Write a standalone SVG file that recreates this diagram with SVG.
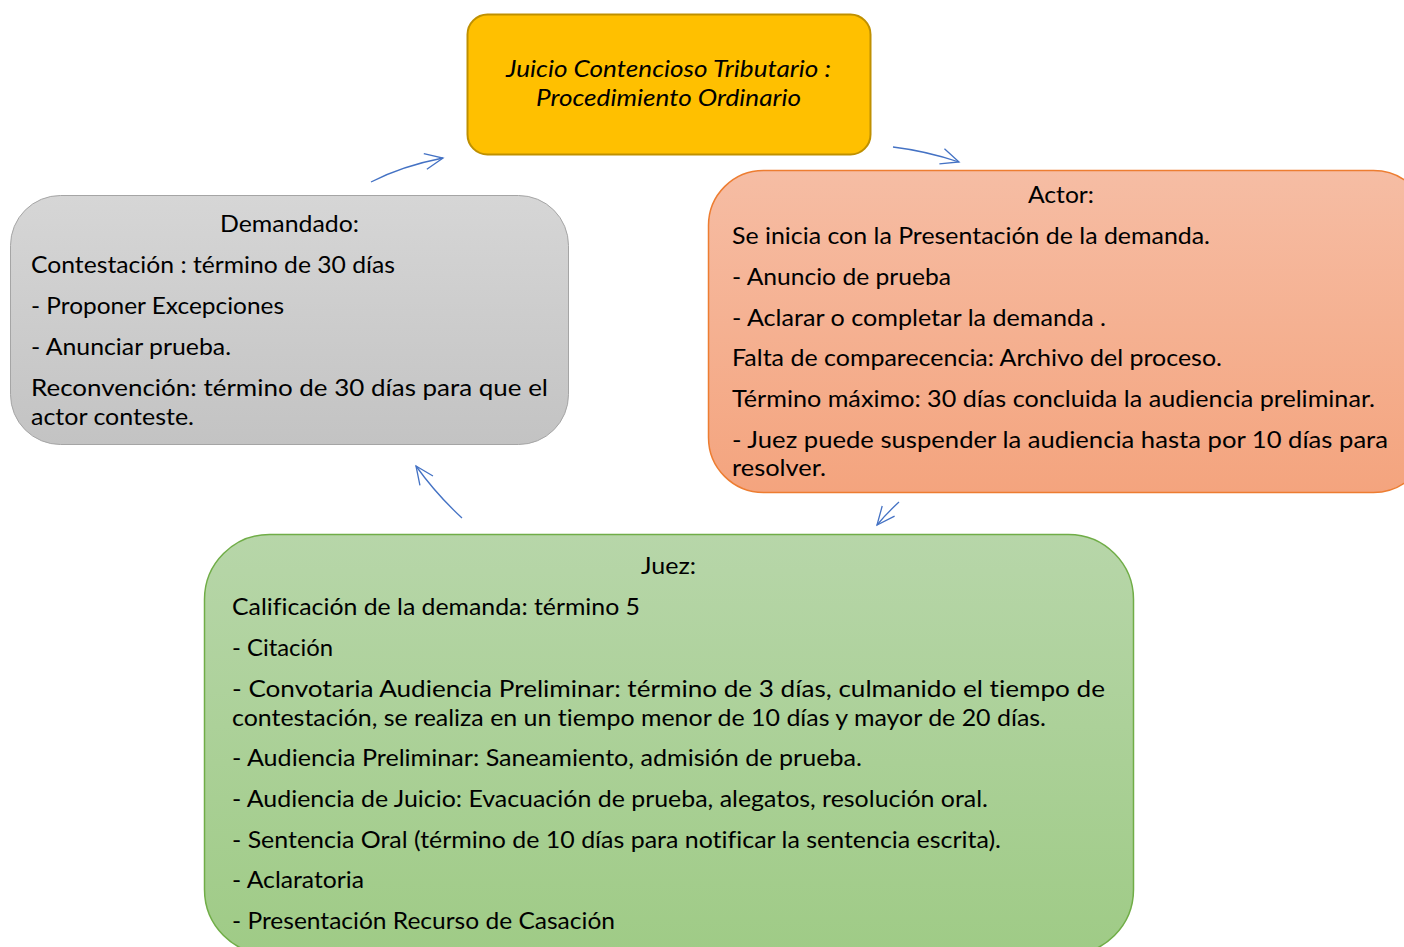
<svg xmlns="http://www.w3.org/2000/svg" width="1404" height="947" viewBox="0 0 1404 947">
<style>
.t{font-family:Lato,"Liberation Sans",sans-serif;font-size:23.5px;fill:#000;font-variant-ligatures:none}
.c{text-anchor:middle}
.i{font-style:italic}
.conn path{fill:none;stroke:#4472c4;stroke-width:1.3}
</style>
<defs>
<linearGradient id="gGray" x1="0" y1="0" x2="0" y2="1"><stop offset="0" stop-color="#d6d6d6"/><stop offset="1" stop-color="#c3c3c3"/></linearGradient>
<linearGradient id="gOr" x1="0" y1="0" x2="0" y2="1"><stop offset="0" stop-color="#f6bda4"/><stop offset="1" stop-color="#f4a47e"/></linearGradient>
<linearGradient id="gGr" x1="0" y1="0" x2="0" y2="1"><stop offset="0" stop-color="#b7d6a9"/><stop offset="1" stop-color="#9fcb86"/></linearGradient>
<marker id="ah" markerUnits="userSpaceOnUse" markerWidth="40" markerHeight="40" refX="0" refY="0" viewBox="-20 -20 40 40" orient="auto" overflow="visible">
<path d="M-18,-8 L0,0 L-18,8" fill="none" stroke="#4472c4" stroke-width="1.3"/>
</marker>
</defs>

<g id="conectores" class="conn">
<path d="M371,182 Q402,166 443,158" marker-end="url(#ah)"/>
<path d="M893,147 Q926,151 959,162" marker-end="url(#ah)"/>
<path d="M899,502 Q886,514 877,525" marker-end="url(#ah)"/>
<path d="M462,518 Q436,494 416,466" marker-end="url(#ah)"/>
</g>

<g id="titulo">
<rect x="467.5" y="14.5" width="403" height="140" rx="20" fill="#ffc000" stroke="#bf9000" stroke-width="2"/>
<text class="t c i" x="668.5" y="77" textLength="325" lengthAdjust="spacingAndGlyphs">Juicio Contencioso Tributario :</text>
<text class="t c i" x="668.5" y="106" textLength="265" lengthAdjust="spacingAndGlyphs">Procedimiento Ordinario</text>
</g>

<g id="demandado">
<rect x="10.5" y="195.5" width="558" height="249" rx="50" fill="url(#gGray)" stroke="#a5a5a5" stroke-width="1"/>
<text class="t c" x="289.5" y="232" textLength="139" lengthAdjust="spacingAndGlyphs">Demandado:</text>
<text class="t" x="31" y="273" textLength="364" lengthAdjust="spacingAndGlyphs">Contestación : término de 30 días</text>
<text class="t" x="31" y="314" textLength="253" lengthAdjust="spacingAndGlyphs">- Proponer Excepciones</text>
<text class="t" x="31" y="355" textLength="200" lengthAdjust="spacingAndGlyphs">- Anunciar prueba.</text>
<text class="t" x="31" y="396" textLength="517" lengthAdjust="spacingAndGlyphs">Reconvención: término de 30 días para que el</text>
<text class="t" x="31" y="425" textLength="163" lengthAdjust="spacingAndGlyphs">actor conteste.</text>
</g>

<g id="actor">
<rect x="708.5" y="170.5" width="720" height="322" rx="55" fill="url(#gOr)" stroke="#ed7d31" stroke-width="1.5"/>
<text class="t c" x="1061" y="203" textLength="66" lengthAdjust="spacingAndGlyphs">Actor:</text>
<text class="t" x="732" y="244" textLength="478" lengthAdjust="spacingAndGlyphs">Se inicia con la Presentación de la demanda.</text>
<text class="t" x="732" y="285" textLength="219" lengthAdjust="spacingAndGlyphs">- Anuncio de prueba</text>
<text class="t" x="732" y="326" textLength="374" lengthAdjust="spacingAndGlyphs">- Aclarar o completar la demanda .</text>
<text class="t" x="732" y="366" textLength="490" lengthAdjust="spacingAndGlyphs">Falta de comparecencia: Archivo del proceso.</text>
<text class="t" x="732" y="407" textLength="643" lengthAdjust="spacingAndGlyphs">Término máximo: 30 días concluida la audiencia preliminar.</text>
<text class="t" x="732" y="448" textLength="656" lengthAdjust="spacingAndGlyphs">- Juez puede suspender la audiencia hasta por 10 días para</text>
<text class="t" x="732" y="476" textLength="94" lengthAdjust="spacingAndGlyphs">resolver.</text>
</g>

<g id="juez">
<rect x="204.5" y="534.5" width="929" height="420" rx="65" fill="url(#gGr)" stroke="#70ad47" stroke-width="1.5"/>
<text class="t c" x="668.5" y="574" textLength="55" lengthAdjust="spacingAndGlyphs">Juez:</text>
<text class="t" x="232" y="615" textLength="408" lengthAdjust="spacingAndGlyphs">Calificación de la demanda: término 5</text>
<text class="t" x="232" y="656" textLength="101" lengthAdjust="spacingAndGlyphs">- Citación</text>
<text class="t" x="232" y="697" textLength="873" lengthAdjust="spacingAndGlyphs">- Convotaria Audiencia Preliminar: término de 3 días, culmanido el tiempo de</text>
<text class="t" x="232" y="726" textLength="814" lengthAdjust="spacingAndGlyphs">contestación, se realiza en un tiempo menor de 10 días y mayor de 20 días.</text>
<text class="t" x="232" y="766" textLength="630" lengthAdjust="spacingAndGlyphs">- Audiencia Preliminar: Saneamiento, admisión de prueba.</text>
<text class="t" x="232" y="807" textLength="756" lengthAdjust="spacingAndGlyphs">- Audiencia de Juicio: Evacuación de prueba, alegatos, resolución oral.</text>
<text class="t" x="232" y="848" textLength="769" lengthAdjust="spacingAndGlyphs">- Sentencia Oral (término de 10 días para notificar la sentencia escrita).</text>
<text class="t" x="232" y="888" textLength="132" lengthAdjust="spacingAndGlyphs">- Aclaratoria</text>
<text class="t" x="232" y="929" textLength="383" lengthAdjust="spacingAndGlyphs">- Presentación Recurso de Casación</text>
</g>
</svg>
